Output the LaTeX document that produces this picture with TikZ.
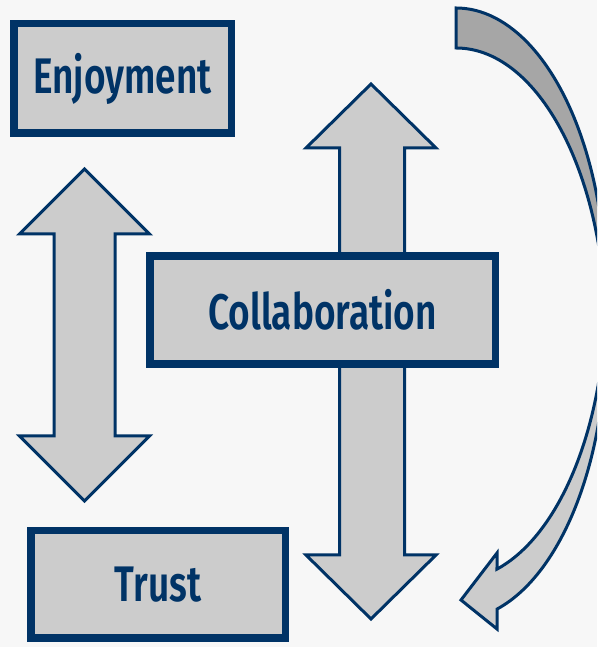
\documentclass[tikz,border=0pt]{standalone}
\usepackage{fontspec}
\newfontfamily\labelfont{Fira Sans SemiBold}[FakeStretch=0.74]
\definecolor{navy}{HTML}{003366}
\definecolor{boxgray}{HTML}{CCCCCC}
\definecolor{backgray}{HTML}{A6A6A6}
\definecolor{paper}{HTML}{F7F7F7}

\def\rx{150}
\def\ry{286}

\begin{document}
\begin{tikzpicture}[x=1pt,y=1pt,line join=miter,
  box/.style={draw=navy,line width=7.5pt,fill=boxgray,inner sep=0pt,text=navy,
    font=\labelfont\fontsize{50}{50}\selectfont},
  blockarrow/.style={draw=navy,line width=3pt,fill=boxgray}]
\fill[paper] (0,0) rectangle (597,647);
\useasboundingbox (0,0) rectangle (597,647);
\clip (0,0) rectangle (597,647);

\coordinate (E) at (122.5,568.5);
\coordinate (C) at (322.5,337);
\coordinate (T) at (158,62.5);

\draw[blockarrow] (84.5,478) -- (149.5,413) -- (115,413) -- (115,211) -- (149.5,211)
  -- (84.5,146) -- (19.5,211) -- (54,211) -- (54,413) -- (19.5,413) -- cycle;
\draw[blockarrow] (371,563) -- (436,499) -- (404.5,499) -- (404.5,391)
  -- (339.5,391) -- (339.5,499) -- (306,499) -- cycle;
\draw[blockarrow] (339.5,283) -- (339.5,92) -- (306,92) -- (371,28)
  -- (436,92) -- (404.5,92) -- (404.5,283) -- cycle;

\draw[blockarrow,fill=backgray] (456,639)
  arc[start angle=90,end angle=-4.01,x radius=\rx,y radius=\ry] coordinate (twist)
  arc[start angle=4.01,end angle=90,x radius=\rx,y radius=\ry] -- cycle;
\draw[blockarrow] (twist)
  arc[start angle=-4.01,end angle=-74.14,x radius=\rx,y radius=\ry]
  -- (497,94) -- (461,47) -- (497,18) -- (497,37.9)
  arc[start angle=-74.14,end angle=4.01,x radius=\rx,y radius=\ry] -- cycle;

\node[box,minimum width=217.5pt,minimum height=109.5pt] (enjoy) at (E) {Enjoyment};
\node[box,minimum width=345.5pt,minimum height=108pt] (collab) at (C) {Collaboration};
\node[box,minimum width=254.5pt,minimum height=107.5pt] (trust) at (T) {Trust};
\end{tikzpicture}
\end{document}
